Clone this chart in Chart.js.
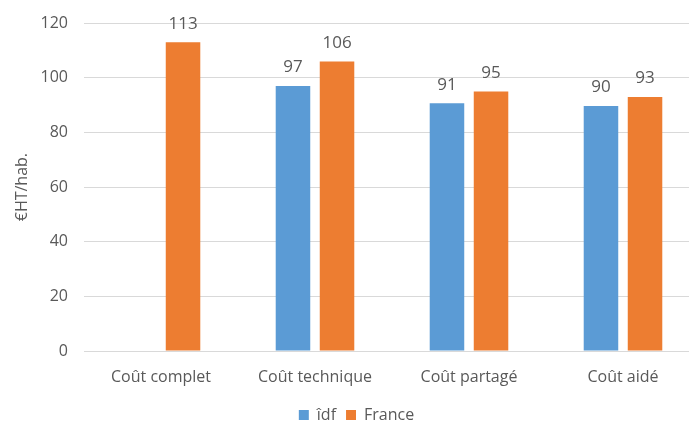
<!DOCTYPE html>
<html lang="fr">
<head>
  <meta charset="UTF-8">
  <title>Coût par habitant</title>
  <script src="https://cdn.jsdelivr.net/npm/chart.js@4.4.4/dist/chart.umd.min.js"></script>
  <style>
    html, body { margin: 0; padding: 0; background: #fff; overflow: hidden; }
    /* the plot runs a little past the right and bottom edges, as in the original export */
    #wrap { width: 700px; height: 433px; }
  </style>
</head>
<body>
  <div id="wrap"><canvas id="chart"></canvas></div>

  <script>
    const categories = ['Coût complet', 'Coût technique', 'Coût partagé', 'Coût aidé'];
    const idfValues = [null, 97, 90.7, 89.7];
    const franceValues = [113, 106, 95, 93];
    const yTicks = [0, 20, 40, 60, 80, 100, 120];

    const textColor = '#595959';
    const fontFamily = "'Open Sans', 'Liberation Sans', sans-serif";

    // draws the value above each bar
    const valueLabels = {
      id: 'valueLabels',
      afterDatasetsDraw(chart) {
        const ctx = chart.ctx;
        ctx.save();
        ctx.fillStyle = textColor;
        ctx.font = `17px ${fontFamily}`;
        ctx.textAlign = 'center';
        ctx.textBaseline = 'bottom';
        chart.data.datasets.forEach((ds, i) => {
          chart.getDatasetMeta(i).data.forEach((bar, j) => {
            const v = ds.data[j];
            if (v == null) return;
            ctx.fillText(Math.round(v), bar.x, bar.y - 10);
          });
        });
        ctx.restore();
      }
    };

    new Chart(document.getElementById('chart'), {
      type: 'bar',
      data: {
        labels: categories,
        datasets: [
          { label: 'îdf', data: idfValues, backgroundColor: '#5B9BD5', barPercentage: 0.784, categoryPercentage: 0.572 },
          { label: 'France', data: franceValues, backgroundColor: '#ED7D31', barPercentage: 0.784, categoryPercentage: 0.572 }
        ]
      },
      options: {
        responsive: true,
        maintainAspectRatio: false,
        animation: false,
        layout: { padding: { top: 11, left: 13, right: 0, bottom: 0 } },
        scales: {
          x: {
            afterFit: (axis) => { axis.height = 46; },
            grid: { display: false },
            border: { display: false },
            ticks: { color: textColor, font: { family: fontFamily, size: 16 }, padding: 8.5 }
          },
          y: {
            min: 0,
            max: 120,
            afterBuildTicks: (axis) => { axis.ticks = yTicks.map(v => ({ value: v })); },
            afterFit: (axis) => { axis.width = 71; },
            grid: { color: '#d9d9d9', drawTicks: false },
            border: { display: false },
            ticks: { color: textColor, font: { family: fontFamily, size: 16, lineHeight: 0.9 }, padding: 16 },
            title: { display: true, text: '€HT/hab.', color: textColor, font: { family: fontFamily, size: 16 }, padding: 0 }
          }
        },
        plugins: {
          legend: {
            position: 'bottom',
            labels: { color: textColor, font: { family: fontFamily, size: 16 }, boxWidth: 10, boxHeight: 10, padding: 10 }
          },
          tooltip: { enabled: false }
        }
      },
      plugins: [valueLabels]
    });
  </script>
</body>
</html>
